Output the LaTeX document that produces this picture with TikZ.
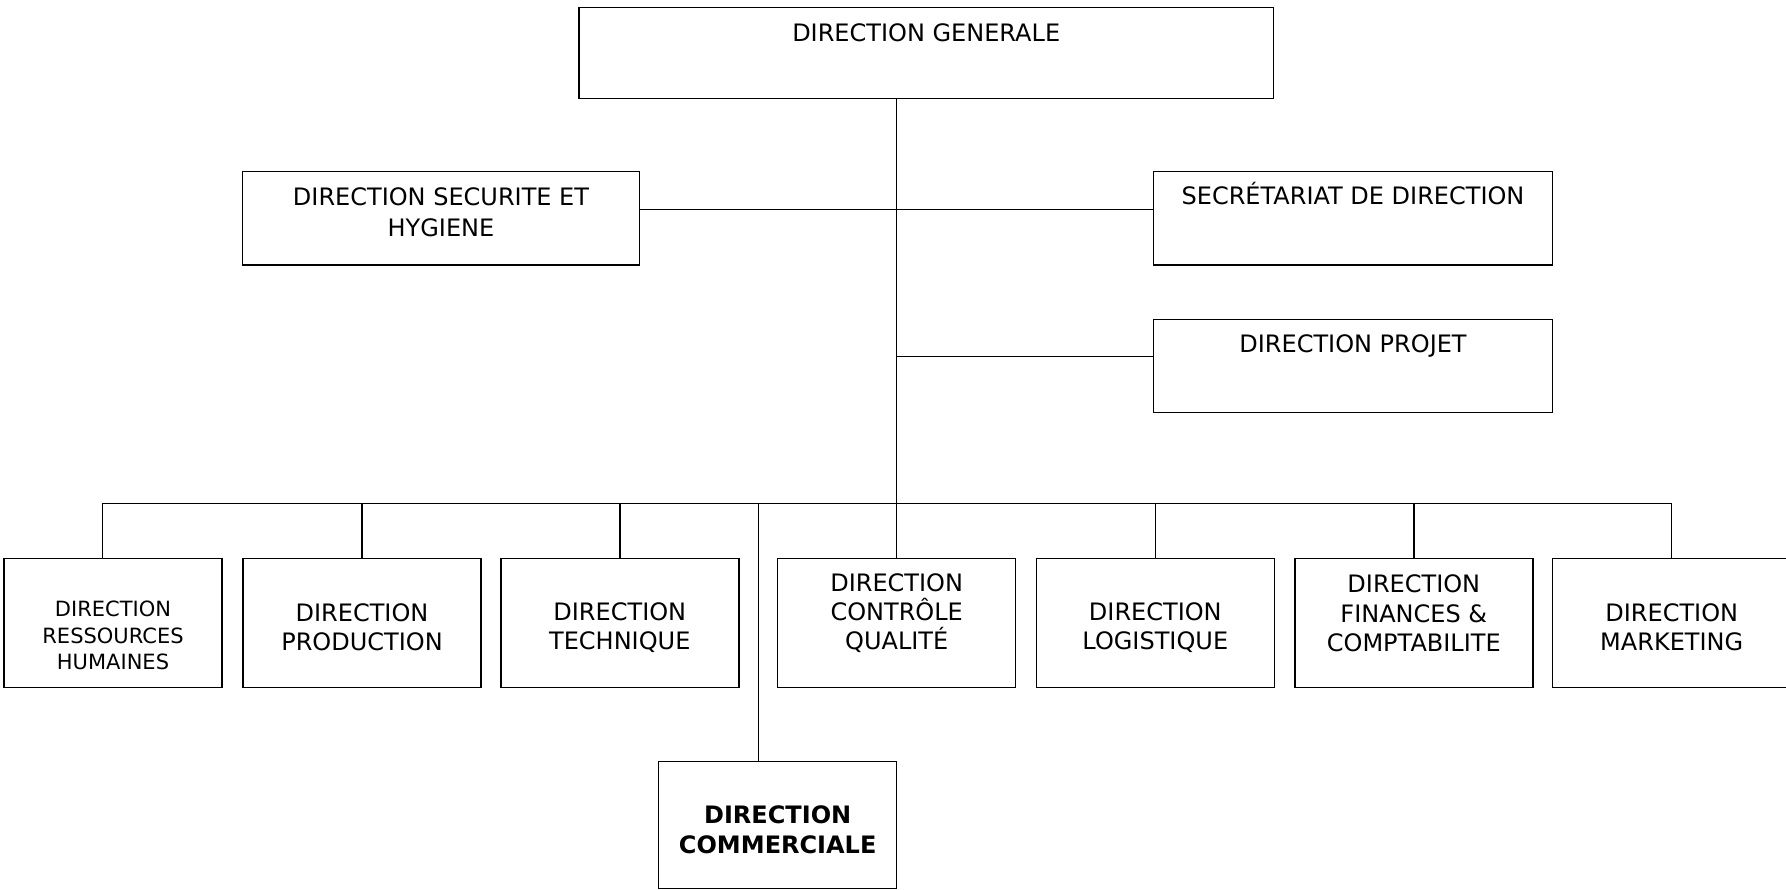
\documentclass[tikz,border=0pt]{standalone}
\usepackage{fontspec}
\setmainfont{DejaVu Sans}
\usetikzlibrary{positioning}
\tikzset{
  box/.style={draw=black,line width=1.4pt,inner sep=0pt,outer sep=0pt},
  unit/.style={box,minimum width=238pt,minimum height=129pt},
  lbl/.style={font=\fontsize{24}{29.2}\selectfont,align=center,inner sep=0pt},
  oneline/.style={lbl,text height=17.5pt,text depth=0pt},
  link/.style={draw=black,line width=1.4pt}
}

\begin{document}
\begin{tikzpicture}[x=1pt,y=-1pt]
\useasboundingbox (0,0) rectangle (1786,890);

% direction and attached services
\node[box,minimum width=694.5pt,minimum height=91.4pt] (dg) at (926.2,53) {};
\node[oneline] (dg-t) at ([yshift=20.7pt]dg.center) {DIRECTION GENERALE};
\node[box,minimum width=396.6pt,minimum height=93.3pt] (dsh) at (441,218.3) {};
\node[lbl,font=\fontsize{24}{30.8}\selectfont] (dsh-t) at ([yshift=6.2pt]dsh.center) {DIRECTION SECURITE ET\\HYGIENE};
\node[box,minimum width=399.4pt,minimum height=93.3pt] (sec) at (1353,218.3) {};
\node[oneline] (sec-t) at ([yshift=22.5pt]sec.center) {SECRÉTARIAT DE DIRECTION};
\node[box,minimum width=399.4pt,minimum height=93pt] (pro) at (1353,365.8) {};
\node[oneline] (pro-t) at ([yshift=22.5pt]pro.center) {DIRECTION PROJET};

% operational directions
\node[unit,minimum width=218pt] (rh) at (113,622.8) {};
\node[lbl,font=\fontsize{21}{26.7}\selectfont] (rh-t) at ([yshift=-12.7pt]rh.center) {DIRECTION\\RESSOURCES\\HUMAINES};
\node[unit] (prod) at (362,622.8) {};
\node[lbl] (prod-t) at ([yshift=-4.5pt]prod.center) {DIRECTION\\PRODUCTION};
\node[unit] (tech) at (619.8,622.8) {};
\node[lbl] (tech-t) at ([yshift=-4.5pt]tech.center) {DIRECTION\\TECHNIQUE};
\node[unit] (ctl) at (896.7,622.8) {};
\node[lbl] (ctl-t) at ([yshift=9.5pt]ctl.center) {DIRECTION\\CONTRÔLE\\QUALITÉ};
\node[unit] (log) at (1155.3,622.8) {};
\node[lbl] (log-t) at ([yshift=-4.5pt]log.center) {DIRECTION\\LOGISTIQUE};
\node[unit] (fin) at (1413.8,622.8) {};
\node[lbl] (fin-t) at ([yshift=9.5pt]fin.center) {DIRECTION\\FINANCES \&\\COMPTABILITE};
\node[unit] (mkt) at (1671.7,622.8) {};
\node[lbl] (mkt-t) at ([yshift=-4.5pt]mkt.center) {DIRECTION\\MARKETING};
\node[unit,minimum height=126.6pt] (com) at (777.7,825) {};
\node[lbl,font=\bfseries\fontsize{24}{29.6}\selectfont] (com-t) at ([yshift=-5pt]com.center) {DIRECTION\\COMMERCIALE};

% links
\coordinate (bus) at (896.7,503.3);
\draw[link] (dg.south -| ctl.north) -- (ctl.north);
\draw[link] ([yshift=9pt]dsh.east) -- ([yshift=9pt]sec.west);
\draw[link] ([yshift=9.1pt]pro.west) -- ([yshift=9.1pt]pro.west -| ctl.north);
\draw[link] ([xshift=-10.7pt]rh.north) |- (bus) -| (mkt.north);
\draw[link] (prod.north) -- (prod.north |- bus);
\draw[link] (tech.north) -- (tech.north |- bus);
\draw[link] (log.north) -- (log.north |- bus);
\draw[link] (fin.north) -- (fin.north |- bus);
\draw[link] ([xshift=-19.4pt]com.north) -- ([xshift=-19.4pt]com.north |- bus);

\end{tikzpicture}
\end{document}
